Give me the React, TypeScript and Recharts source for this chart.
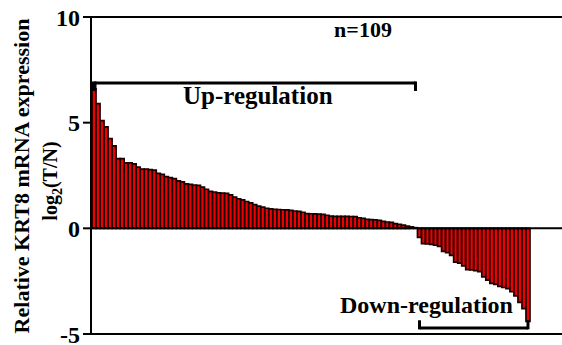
import React from "react";
import { BarChart, Bar, XAxis, YAxis, ReferenceLine, Customized } from "recharts";

const values: number[] = [
  6.6, 5.9, 5.1, 4.8, 4.25, 3.9, 3.3, 3.3, 3.1, 3.1,
  3.05, 2.9, 2.8, 2.8, 2.78, 2.75, 2.6, 2.55, 2.45, 2.4,
  2.35, 2.25, 2.2, 2.1, 2.08, 2.05, 2.03, 1.95, 1.85, 1.75,
  1.72, 1.68, 1.67, 1.65, 1.58, 1.48, 1.4, 1.35, 1.27, 1.2,
  1.12, 1.05, 1.0, 0.95, 0.92, 0.9, 0.89, 0.88, 0.87, 0.85,
  0.82, 0.8, 0.76, 0.7, 0.69, 0.68, 0.67, 0.66, 0.62, 0.58,
  0.57, 0.57, 0.57, 0.57, 0.56, 0.55, 0.5, 0.47, 0.42, 0.41,
  0.4, 0.38, 0.33, 0.3, 0.28, 0.22, 0.19, 0.15, 0.1, 0.07,
  0.03,
  -0.43, -0.72, -0.74, -0.76, -0.8, -0.85, -1.09, -1.15, -1.28,
  -1.6, -1.65, -1.78, -1.95, -1.97, -2.0, -2.05, -2.3, -2.45, -2.6,
  -2.65, -2.75, -2.8, -2.85, -3.0, -3.2, -3.5, -3.8, -4.4,
];
const samples: string[] = values.map((_, i) => String(i + 1));
const yTicks: number[] = [-5, 0, 5, 10];
const firstUp = "1";
const lastUp = "81";
const firstDown = "82";
const lastDown = "109";

const data = samples.map((id, i) => ({ id, value: values[i] }));

const FONT = "'Liberation Serif', 'Times New Roman', serif";

const Annotations = () => (
  <g fontFamily={FONT} fontWeight="bold" fill="#000">
    <text x={363} y={37} fontSize={22} textAnchor="middle">n=109</text>
    <text x={183} y={104} fontSize={25}>Up-regulation</text>
    <text x={340} y={313} fontSize={24}>Down-regulation</text>
    <text x={29} y={176} fontSize={22} textAnchor="middle" transform="rotate(-90, 29, 176)">
      Relative KRT8 mRNA expression
    </text>
    <text x={57} y={181} fontSize={20} textAnchor="middle" transform="rotate(-90, 57, 181)">
      log<tspan fontSize={14} dy={5}>2</tspan><tspan dy={-5}>(T/N)</tspan>
    </text>
  </g>
);

export default function App() {
  return (
    <div style={{ position: "absolute", left: 0, top: 0, background: "#fff" }}>
      <BarChart
        width={562}
        height={345}
        data={data}
        margin={{ top: 17, right: 0, bottom: 11, left: 0 }}
        barCategoryGap={0}
        barGap={0}
      >
        <XAxis dataKey="id" hide padding={{ left: 1, right: 32 }} />
        <YAxis
          width={91}
          domain={[-5, 10]}
          ticks={yTicks}
          interval={0}
          axisLine={{ stroke: "#000", strokeWidth: 2 }}
          tickLine={{ stroke: "#000", strokeWidth: 2 }}
          tickSize={8}
          tickMargin={3}
          tick={{ fill: "#000", fontSize: 24, fontWeight: "bold", fontFamily: FONT }}
        />
        <Bar dataKey="value" fill="#ee0000" stroke="#1a0000" strokeWidth={1.7} isAnimationActive={false} />
        <ReferenceLine y={10} stroke="#000" strokeWidth={2} />
        <ReferenceLine y={0} stroke="#000" strokeWidth={2} />
        <ReferenceLine y={-5} stroke="#000" strokeWidth={2} />
        <ReferenceLine segment={[{ x: firstUp, y: 6.88 }, { x: lastUp, y: 6.88 }]} stroke="#000" strokeWidth={3} />
        <ReferenceLine segment={[{ x: firstUp, y: 6.95 }, { x: firstUp, y: 6.5 }]} stroke="#000" strokeWidth={5} />
        <ReferenceLine segment={[{ x: lastUp, y: 6.95 }, { x: lastUp, y: 6.5 }]} stroke="#000" strokeWidth={3} />
        <ReferenceLine segment={[{ x: firstDown, y: -4.72 }, { x: lastDown, y: -4.72 }]} stroke="#000" strokeWidth={3} />
        <ReferenceLine segment={[{ x: firstDown, y: -4.78 }, { x: firstDown, y: -4.35 }]} stroke="#000" strokeWidth={3} />
        <ReferenceLine segment={[{ x: lastDown, y: -4.78 }, { x: lastDown, y: -4.35 }]} stroke="#000" strokeWidth={3} />
        <Customized component={Annotations} />
      </BarChart>
    </div>
  );
}
